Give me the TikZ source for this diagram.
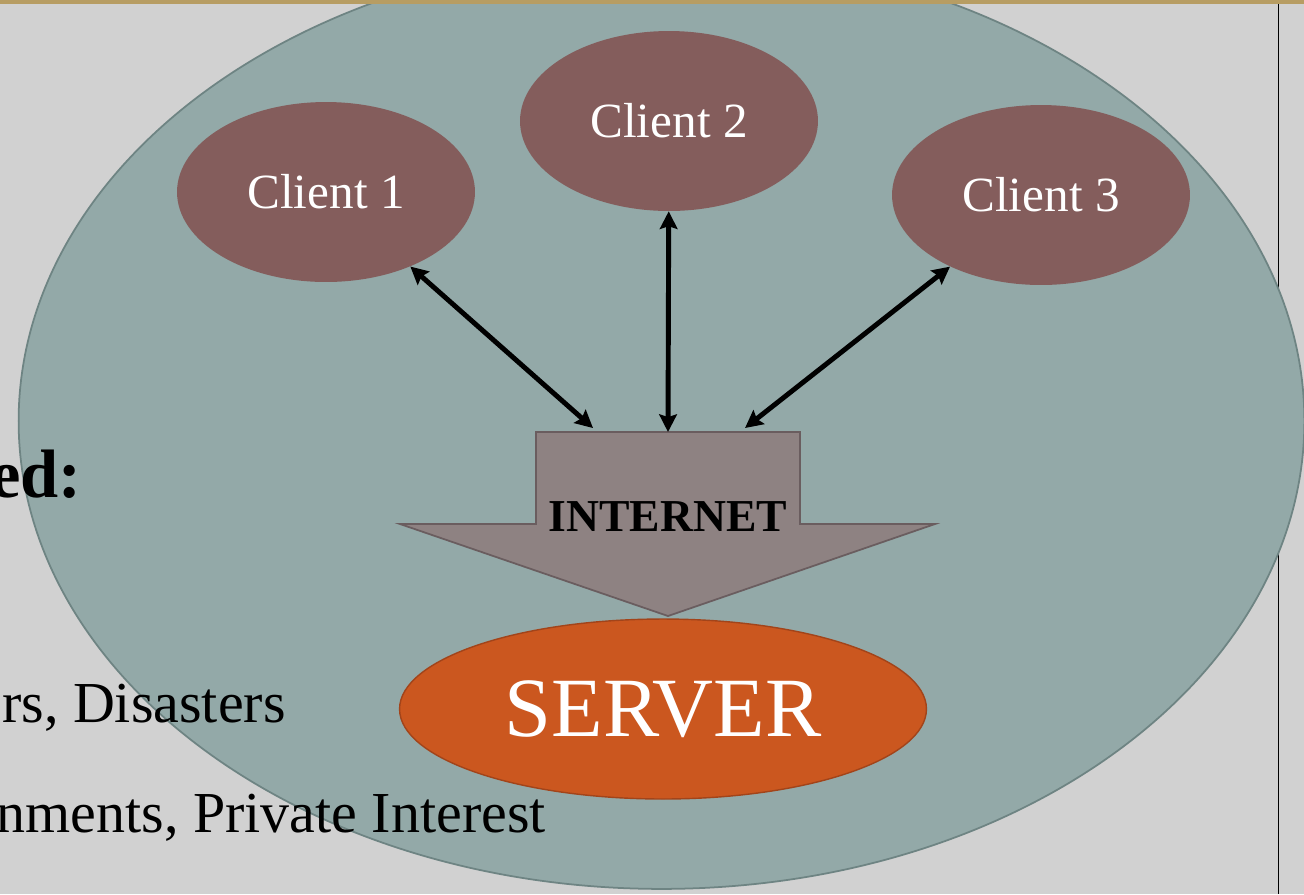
\documentclass[tikz,border=0pt]{standalone}
\usepackage{fontspec}
\setmainfont{Liberation Serif}
\usepackage{tikz}
\usetikzlibrary{shapes.geometric, arrows, arrows.meta}
\definecolor{slidebg}{HTML}{D1D1D1}
\definecolor{goldband}{HTML}{B79D63}
\definecolor{cloudfill}{HTML}{93A9A8}
\definecolor{cloudline}{HTML}{6E8483}
\definecolor{clientfill}{HTML}{845D5C}
\definecolor{inetfill}{HTML}{8E8282}
\definecolor{inetline}{HTML}{6A5D5F}
\definecolor{serverfill}{HTML}{CB571F}
\definecolor{serverline}{HTML}{A2441A}
\tikzstyle{cloud} = [ellipse, minimum width=25.72cm, minimum height=18.72cm, inner sep=0pt, draw=cloudline, fill=cloudfill, line width=1pt]
\tikzstyle{client} = [ellipse, minimum width=5.96cm, minimum height=3.6cm, inner sep=0pt, fill=clientfill, text=white, font=\fontsize{28}{30}\selectfont]
\tikzstyle{server} = [ellipse, minimum width=10.54cm, minimum height=3.6cm, inner sep=0pt, draw=serverline, fill=serverfill, line width=0.8pt, text=white, font=\fontsize{48}{50}\selectfont]
\tikzstyle{inet} = [draw=inetline, fill=inetfill, line width=1pt, line join=miter]
\tikzstyle{bullet} = [anchor=base east, inner sep=0pt, font=\fontsize{33}{36}\selectfont]
\tikzstyle{linkarrow} = [draw=black, line width=2.8pt, {Stealth[length=10pt,width=10pt,inset=1.5pt]}-{Stealth[length=10pt,width=10pt,inset=1.5pt]}]

\begin{document}
\begin{tikzpicture}[x=0.02cm, y=-0.02cm]

    \clip (0,0) rectangle (1304,894);
    \fill[slidebg] (0,0) rectangle (1304,894);

    \draw[black, line width=0.5pt] (1278,4) -- (1278,894);

    \node (network) [cloud] at (661.5,421) {};

    \fill[goldband] (0,0) rectangle (1304,4);

    % text of the slide behind
    \node (heading) [bullet, font=\fontsize{39}{42}\selectfont\bfseries] at (82,497) {ed:};

    \node (line_one) [bullet] at (286,722) {rs, Disasters};

    \node (line_two) [bullet] at (546,832) {nments, Private Interest};

    \node (client1) [client] at (326,192) {Client 1};

    \node (client2) [client] at (669,121) {Client 2};

    \node (client3) [client] at (1041,195) {Client 3};

    \draw[inet] (536,432) -- (800,432) -- (800,524) -- (935,524) -- (668,616) -- (400,524) -- (536,524) -- cycle;

    \node (internet) [anchor=base, inner sep=0pt, font=\fontsize{26}{28}\selectfont\bfseries] at (668,531) {INTERNET};

    \coordinate (inet_left) at (593,428);
    \coordinate (inet_mid) at (668,432);
    \coordinate (inet_right) at (745,428);

    \node (server) [server] at (663,709) {SERVER};

    \draw [linkarrow] (client1) -- (inet_left);

    \draw [linkarrow] (client2) -- (inet_mid);

    \draw [linkarrow] (client3) -- (inet_right);

\end{tikzpicture}
\end{document}
